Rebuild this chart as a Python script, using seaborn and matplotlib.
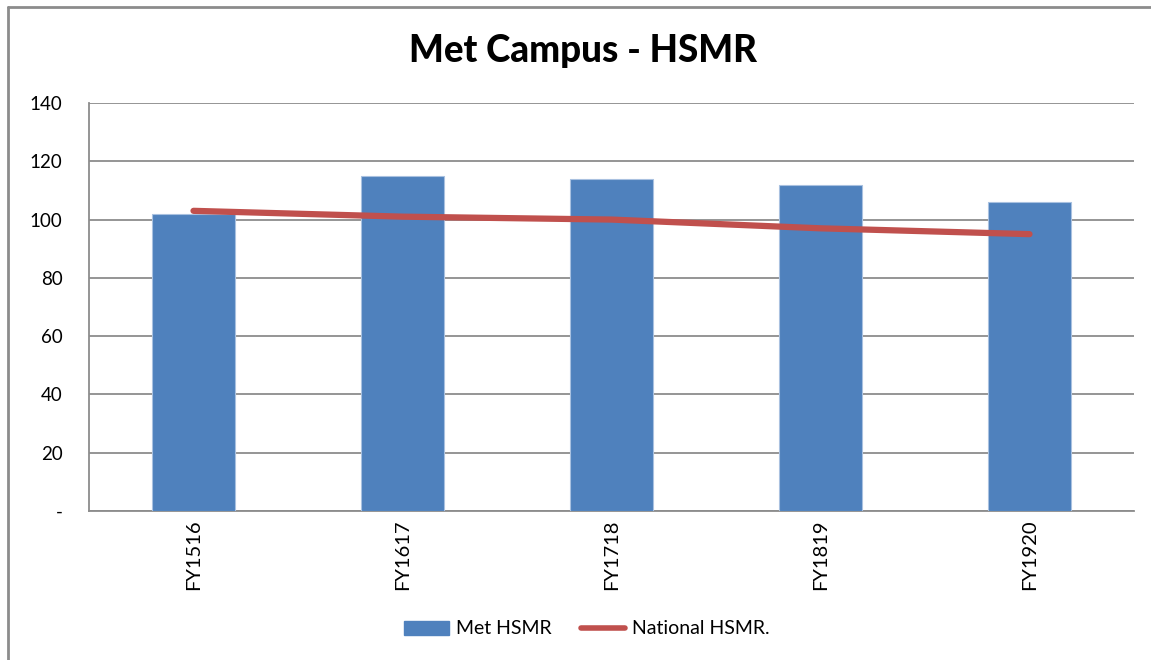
import matplotlib
matplotlib.use("Agg")
import matplotlib.pyplot as plt
import seaborn as sns
import pandas as pd
from matplotlib.lines import Line2D
from matplotlib.patches import Patch

# data
years = ['FY1516', 'FY1617', 'FY1718', 'FY1819', 'FY1920']
met_hsmr = [102, 115, 114, 112, 106]
national_hsmr = [103, 101, 100, 97, 95]

df = pd.DataFrame({'year': years, 'met': met_hsmr, 'national': national_hsmr})

sns.set_theme(style='white')
plt.rcParams['font.family'] = ['Lato', 'DejaVu Sans']
plt.rcParams['text.color'] = 'black'
plt.rcParams['xtick.color'] = 'black'
plt.rcParams['ytick.color'] = 'black'

bar_col = '#4F81BD'
line_col = '#C0504D'
grid_col = '#8C8C8C'

fig = plt.figure(figsize=(11.51, 6.6), dpi=100)
ax = fig.add_axes([89 / 1151, 1 - 511 / 660, (1134 - 89) / 1151, (511 - 103) / 660])

sns.barplot(data=df, x='year', y='met', color=bar_col, width=0.4, saturation=1,
            edgecolor='#A9C1E0', linewidth=0.8, ax=ax, zorder=3)
ax.plot(range(len(years)), df['national'], color=line_col, lw=4.5,
        solid_capstyle='round', zorder=4)

ax.set_xlim(-0.5, len(years) - 0.5)
ax.set_ylim(0, 140)
ax.set_yticks(range(0, 141, 20))
ax.set_yticklabels(['-'] + [str(v) for v in range(20, 141, 20)], fontsize=13.5)
ax.yaxis.grid(True, color=grid_col, lw=1.3, zorder=0)
ax.set_axisbelow(True)

# category labels between boundary ticks
ax.set_xticks([i - 0.5 for i in range(len(years) + 1)], minor=False)
ax.set_xticklabels([])
ax.set_xticks(range(len(years)), minor=True)
ax.set_xticklabels(years, minor=True, rotation=90, fontsize=14.5)
ax.tick_params(axis='x', which='minor', length=0, pad=6)
ax.tick_params(axis='x', which='major', length=6, width=1.3, color=grid_col, direction='out')
ax.tick_params(axis='y', length=6, width=1.3, color=grid_col, direction='out', pad=13)

for s in ['top', 'right']:
    ax.spines[s].set_visible(False)
for s in ['left', 'bottom']:
    ax.spines[s].set_color(grid_col)
    ax.spines[s].set_linewidth(1.3)
ax.set_xlabel('')
ax.set_ylabel('')

fig.text(583 / 1151, 1 - 51 / 660, 'Met Campus - HSMR', ha='center', va='center',
         fontsize=26.5, fontweight='black')

handles = [Patch(color=bar_col, label='Met HSMR'),
           Line2D([0], [0], color=line_col, lw=4, label='National HSMR.')]
fig.legend(handles=handles, loc='center', bbox_to_anchor=(587 / 1151, 1 - 629 / 660),
           ncol=2, frameon=False, fontsize=14, handlelength=2.3, handletextpad=0.35,
           columnspacing=1.5)

# outer chart frame
fig.add_artist(Line2D([8 / 1151, 1], [1 - 6.5 / 660] * 2, color=grid_col, lw=2,
                      transform=fig.transFigure))
fig.add_artist(Line2D([8 / 1151] * 2, [0, 1 - 6.5 / 660], color=grid_col, lw=2,
                      transform=fig.transFigure))

fig.savefig('out.png', dpi=100)
